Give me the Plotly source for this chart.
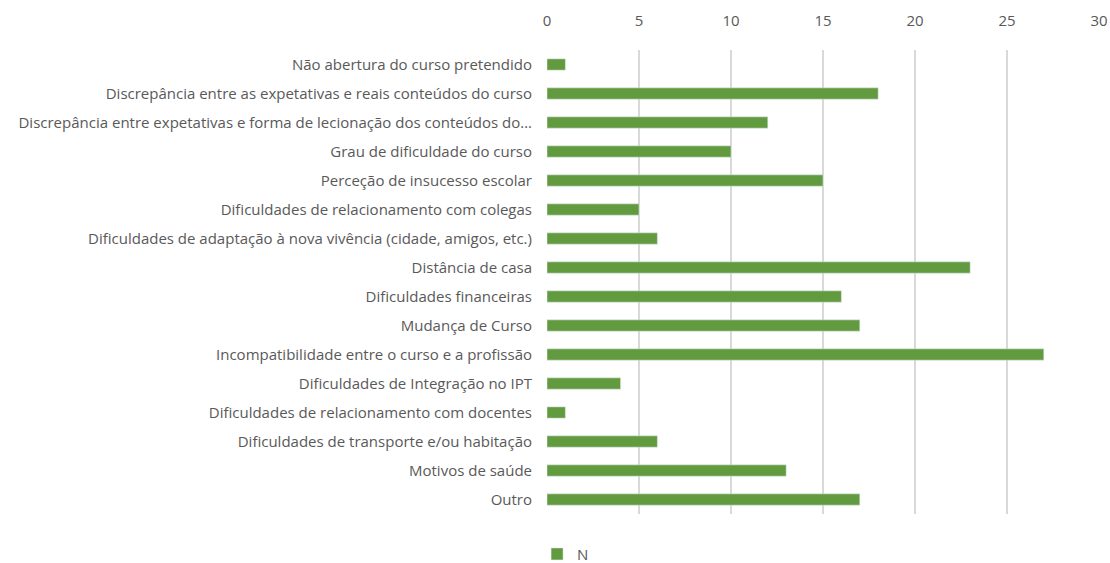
import plotly.graph_objects as go

categories = [
    "Não abertura do curso pretendido",
    "Discrepância entre as expetativas e reais conteúdos do curso",
    "Discrepância entre expetativas e forma de lecionação dos conteúdos do…",
    "Grau de dificuldade do curso",
    "Perceção de insucesso escolar",
    "Dificuldades de relacionamento com colegas",
    "Dificuldades de adaptação à nova vivência (cidade, amigos, etc.)",
    "Distância de casa",
    "Dificuldades financeiras",
    "Mudança de Curso",
    "Incompatibilidade entre o curso e a profissão",
    "Dificuldades de Integração no IPT",
    "Dificuldades de relacionamento com docentes",
    "Dificuldades de transporte e/ou habitação",
    "Motivos de saúde",
    "Outro",
]
values = [1, 18, 12, 10, 15, 5, 6, 23, 16, 17, 27, 4, 1, 6, 13, 17]
series_name = "N"
x_ticks = [0, 5, 10, 15, 20, 25, 30]

fig = go.Figure()
fig.add_trace(go.Bar(
    y=categories, x=values, orientation="h", name=series_name,
    marker=dict(color="#629B3F"), showlegend=True,
))

font_family = "Open Sans, sans-serif"
fs = 15
fig.update_layout(
    width=1110, height=563,
    margin=dict(l=547, r=11, t=50, b=49, autoexpand=False),
    paper_bgcolor="white", plot_bgcolor="white",
    bargap=0.61,
    font=dict(family=font_family, size=fs, color="#595959"),
    showlegend=True,
    legend=dict(orientation="h", x=-0.018, xanchor="left", y=-0.051, yanchor="top",
                font=dict(size=fs, color="#595959")),
    xaxis=dict(
        side="top", range=[0, 30], tickvals=x_ticks, showgrid=True,
        gridcolor="#D9D9D9", gridwidth=1.5, zeroline=False, showline=False,
        tickfont=dict(size=fs, color="#595959"), ticks="", ticklabelstandoff=20,
        automargin=False,
    ),
    yaxis=dict(
        autorange="reversed", showgrid=False, zeroline=False, showline=False,
        ticks="", ticklabelstandoff=14, automargin=False,
        tickfont=dict(size=fs, color="#595959"),
    ),
)

fig.write_html(
    "out.html",
    config={"displayModeBar": False},
    post_script="document.body.style.margin='0';document.body.style.overflow='hidden';",
)
